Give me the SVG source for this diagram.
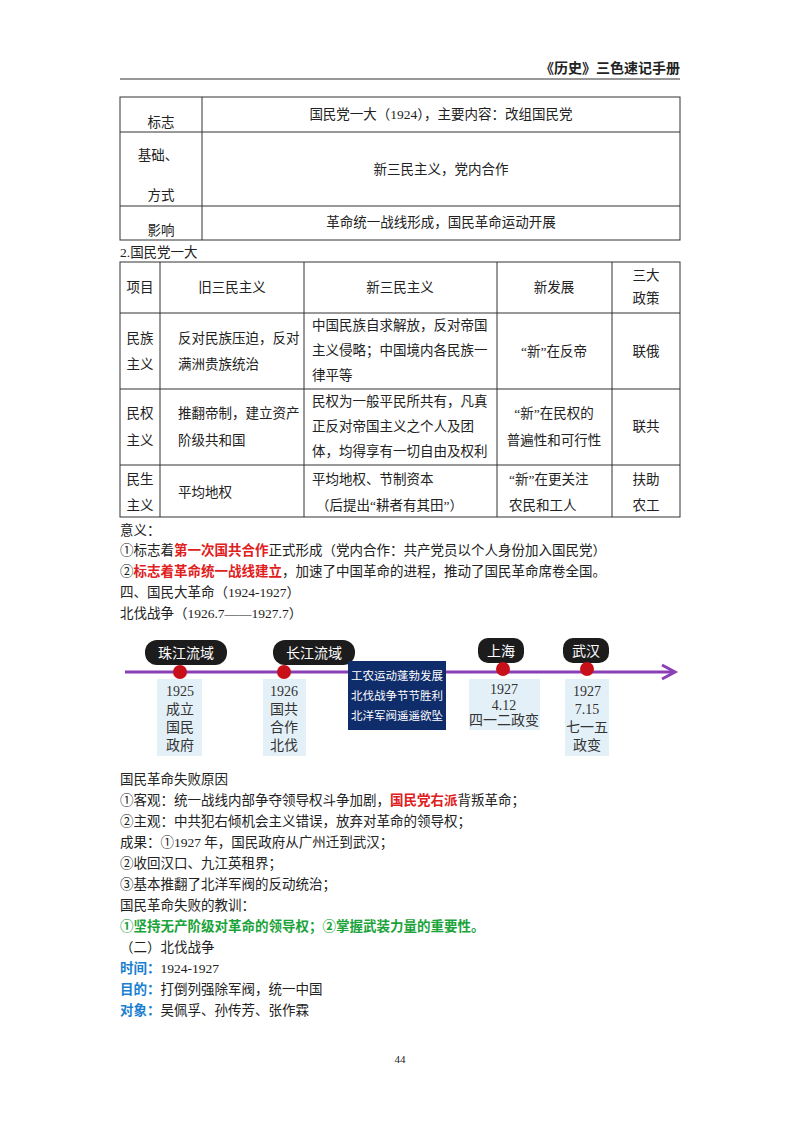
<svg xmlns="http://www.w3.org/2000/svg" width="800" height="1132" viewBox="0 0 800 1132">
<style>
text{font-family:"Liberation Serif","Noto Sans CJK SC",serif;font-size:13.5px;fill:#222}
.c{text-anchor:middle}
.ln{stroke:#333;stroke-width:1;fill:none}
.b{font-weight:bold}
.r{fill:#e0201c;font-weight:bold}
.g{fill:#1aa33a;font-weight:bold}
.bl{fill:#1a7fd0;font-weight:bold}
.pill{fill:#1c1c1c}
.pt{fill:#fff;font-family:"Noto Sans CJK SC",sans-serif;font-size:14px;text-anchor:middle}
.lb{fill:#e4f0f8}
.lt{font-size:14px;text-anchor:middle;fill:#333}
.dot{fill:#c8101a}
</style>
<rect width="800" height="1132" fill="#fff"/>
<text x="680" y="73" text-anchor="end" class="b" style="font-family:'Noto Sans CJK SC',sans-serif;font-size:14px">《历史》三色速记手册</text>
<line x1="120" y1="79" x2="680" y2="79" stroke="#333" stroke-width="1"/>
<g id="table1">
<rect class="ln" x="120" y="97" width="560" height="143"/>
<line class="ln" x1="202" y1="97" x2="202" y2="240"/>
<line class="ln" x1="120" y1="132" x2="680" y2="132"/>
<line class="ln" x1="120" y1="206" x2="680" y2="206"/>
<text class="c" x="161" y="127">标志</text>
<text class="c" x="441" y="119">国民党一大（1924），主要内容：改组国民党</text>
<text class="c" x="158" y="160">基础、</text>
<text class="c" x="161" y="200">方式</text>
<text class="c" x="441" y="174">新三民主义，党内合作</text>
<text class="c" x="161" y="235">影响</text>
<text class="c" x="441" y="227">革命统一战线形成，国民革命运动开展</text>
</g>
<text x="120" y="257">2.国民党一大</text>
<g id="table2">
<rect class="ln" x="120" y="262" width="560" height="255"/>
<line class="ln" x1="160" y1="262" x2="160" y2="517"/>
<line class="ln" x1="304" y1="262" x2="304" y2="517"/>
<line class="ln" x1="497" y1="262" x2="497" y2="517"/>
<line class="ln" x1="612" y1="262" x2="612" y2="517"/>
<line class="ln" x1="120" y1="313" x2="680" y2="313"/>
<line class="ln" x1="120" y1="389" x2="680" y2="389"/>
<line class="ln" x1="120" y1="465" x2="680" y2="465"/>
<text class="c" x="140" y="292">项目</text>
<text class="c" x="232" y="292">旧三民主义</text>
<text class="c" x="400" y="292">新三民主义</text>
<text class="c" x="554" y="292">新发展</text>
<text class="c" x="646" y="280">三大</text>
<text class="c" x="646" y="303">政策</text>
<text class="c" x="140" y="343">民族</text>
<text class="c" x="140" y="369">主义</text>
<text x="178" y="343">反对民族压迫，反对</text>
<text x="178" y="369">满洲贵族统治</text>
<text x="312" y="330">中国民族自求解放，反对帝国</text>
<text x="312" y="355">主义侵略；中国境内各民族一</text>
<text x="312" y="380">律平等</text>
<text class="c" x="554" y="356">“新”在反帝</text>
<text class="c" x="646" y="356">联俄</text>
<text class="c" x="140" y="418">民权</text>
<text class="c" x="140" y="445">主义</text>
<text x="178" y="418">推翻帝制，建立资产</text>
<text x="178" y="445">阶级共和国</text>
<text x="312" y="406">民权为一般平民所共有，凡真</text>
<text x="312" y="431">正反对帝国主义之个人及团</text>
<text x="312" y="456">体，均得享有一切自由及权利</text>
<text class="c" x="554" y="418">“新”在民权的</text>
<text class="c" x="554" y="445">普遍性和可行性</text>
<text class="c" x="646" y="431">联共</text>
<text class="c" x="140" y="484">民生</text>
<text class="c" x="140" y="510">主义</text>
<text x="178" y="497">平均地权</text>
<text x="312" y="484">平均地权、节制资本</text>
<text x="316" y="510">（后提出“耕者有其田”）</text>
<text x="509" y="484">“新”在更关注</text>
<text x="509" y="510">农民和工人</text>
<text class="c" x="646" y="484">扶助</text>
<text class="c" x="646" y="510">农工</text>
</g>
<text x="120" y="535">意义：</text>
<text x="120" y="555">①标志着<tspan class="r">第一次国共合作</tspan>正式形成（党内合作：共产党员以个人身份加入国民党）</text>
<text x="120" y="576">②<tspan class="r">标志着革命统一战线建立</tspan>，加速了中国革命的进程，推动了国民革命席卷全国。</text>
<text x="120" y="597">四、国民大革命（1924-1927）</text>
<text x="120" y="618">北伐战争（1926.7——1927.7）</text>
<g id="timeline">
<line x1="125" y1="672" x2="672" y2="672" stroke="#8a3fb5" stroke-width="3"/>
<polyline points="662,665 675,672 662,679" fill="none" stroke="#8a3fb5" stroke-width="3"/>
<rect class="pill" x="145" y="640" width="82" height="25" rx="12"/>
<text class="pt" x="186" y="658">珠江流域</text>
<rect class="pill" x="273" y="640" width="82" height="25" rx="12"/>
<text class="pt" x="314" y="658">长江流域</text>
<rect class="pill" x="478" y="638" width="46" height="25" rx="10"/>
<text class="pt" x="501" y="656">上海</text>
<rect class="pill" x="563" y="638" width="46" height="25" rx="10"/>
<text class="pt" x="586" y="656">武汉</text>
<circle class="dot" cx="180" cy="672" r="7"/>
<circle class="dot" cx="284" cy="672" r="7"/>
<circle class="dot" cx="503" cy="669" r="7"/>
<circle class="dot" cx="587" cy="669" r="7"/>
<rect class="lb" x="157" y="679" width="45" height="77"/>
<text class="lt" x="180" y="696">1925</text><text class="lt" x="180" y="714">成立</text><text class="lt" x="180" y="732">国民</text><text class="lt" x="180" y="750">政府</text>
<rect class="lb" x="263" y="679" width="43" height="77"/>
<text class="lt" x="284" y="696">1926</text><text class="lt" x="284" y="714">国共</text><text class="lt" x="284" y="732">合作</text><text class="lt" x="284" y="750">北伐</text>
<rect x="348" y="661" width="98" height="69" fill="#0f2d6b"/>
<text x="397" y="680" style="fill:#fff;font-size:11.5px;text-anchor:middle;font-family:'Noto Sans CJK SC',sans-serif">工农运动蓬勃发展</text>
<text x="397" y="700" style="fill:#fff;font-size:11.5px;text-anchor:middle;font-family:'Noto Sans CJK SC',sans-serif">北伐战争节节胜利</text>
<text x="397" y="720" style="fill:#fff;font-size:11.5px;text-anchor:middle;font-family:'Noto Sans CJK SC',sans-serif">北洋军阀遥遥欲坠</text>
<rect class="lb" x="469" y="679" width="71" height="51"/>
<text class="lt" x="504" y="694">1927</text><text class="lt" x="504" y="710">4.12</text><text class="lt" x="504" y="725">四一二政变</text>
<rect class="lb" x="565" y="679" width="44" height="77"/>
<text class="lt" x="587" y="696">1927</text><text class="lt" x="587" y="714">7.15</text><text class="lt" x="587" y="732">七一五</text><text class="lt" x="587" y="750">政变</text>
</g>
<text x="120" y="784">国民革命失败原因</text>
<text x="120" y="805">①客观：统一战线内部争夺领导权斗争加剧，<tspan class="r">国民党右派</tspan>背叛革命；</text>
<text x="120" y="826">②主观：中共犯右倾机会主义错误，放弃对革命的领导权；</text>
<text x="120" y="847">成果：①1927 年，国民政府从广州迁到武汉；</text>
<text x="120" y="868">②收回汉口、九江英租界；</text>
<text x="120" y="889">③基本推翻了北洋军阀的反动统治；</text>
<text x="120" y="910">国民革命失败的教训：</text>
<text x="120" y="931" class="g">①坚持无产阶级对革命的领导权；②掌握武装力量的重要性。</text>
<text x="120" y="952">（二）北伐战争</text>
<text x="120" y="973"><tspan class="bl">时间：</tspan>1924-1927</text>
<text x="120" y="994"><tspan class="bl">目的：</tspan>打倒列强除军阀，统一中国</text>
<text x="120" y="1015"><tspan class="bl">对象：</tspan>吴佩孚、孙传芳、张作霖</text>
<text x="400" y="1063" class="c" style="font-size:11px">44</text>
</svg>
